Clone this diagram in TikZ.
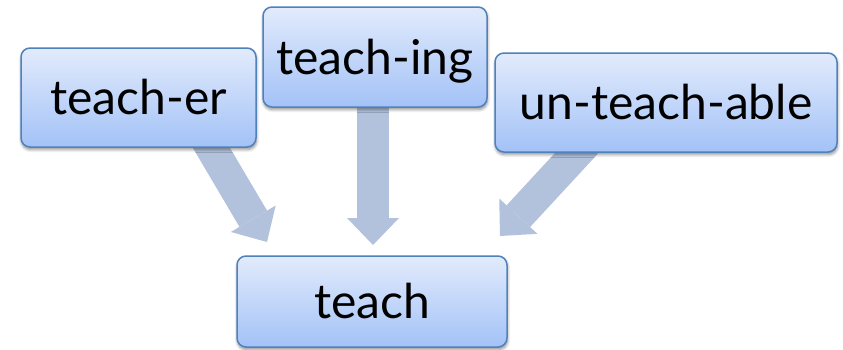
\documentclass[tikz,border=0pt]{standalone}
\usepackage{fontspec}
\setmainfont{Lato}
\usetikzlibrary{arrows.meta,shadows.blur}
\definecolor{boxtop}{RGB}{226,235,252}
\definecolor{boxbottom}{RGB}{163,194,247}
\definecolor{boxline}{RGB}{79,129,189}
\definecolor{arrowfill}{RGB}{178,194,220}
\pgfdeclarelayer{background}
\pgfsetlayers{background,main}
\begin{document}
\begin{tikzpicture}[x=1pt,y=-1pt,
  wordbox/.style={draw=boxline, line width=1.5pt, rounded corners=9pt,
    top color=boxtop, bottom color=boxbottom,
    font=\fontsize{48}{54}\selectfont, text height=34pt, text depth=0pt,
    inner sep=0pt,
    blur shadow={shadow xshift=0.5pt, shadow yshift=-2.5pt,
      shadow blur radius=3pt, shadow blur steps=6, shadow opacity=45}},
  flow/.style={arrowfill, line width=32pt,
    -{Triangle[width=52pt,length=27pt,line width=0pt]}}]
  \useasboundingbox (0,0) rectangle (843,349);

  % word boxes
  \node[wordbox, minimum width=235pt, minimum height=99pt] (er) at (138.5,97.5) {teach-er};
  \node[wordbox, minimum width=224pt, minimum height=100pt] (ing) at (375,57) {teach-ing};
  \node[wordbox, minimum width=342pt, minimum height=99pt] (able) at (666,102.5) {un-teach-able};
  \node[wordbox, minimum width=270pt, minimum height=91pt] (teach) at (372,301.5) {teach};

  % arrow ends
  \coordinate (erStart) at (205,137);
  \coordinate (erTip) at (267,242);
  \coordinate (ingStart) at (373,95);
  \coordinate (ingTip) at (373,245);
  \coordinate (ableStart) at (586,143);
  \coordinate (ableTip) at (500,236);

  % block arrows behind the boxes
  \begin{pgfonlayer}{background}
    \draw[flow] (erStart) -- (erTip);
    \draw[flow] (ingStart) -- (ingTip);
    \draw[flow] (ableStart) -- (ableTip);
  \end{pgfonlayer}
\end{tikzpicture}
\end{document}
